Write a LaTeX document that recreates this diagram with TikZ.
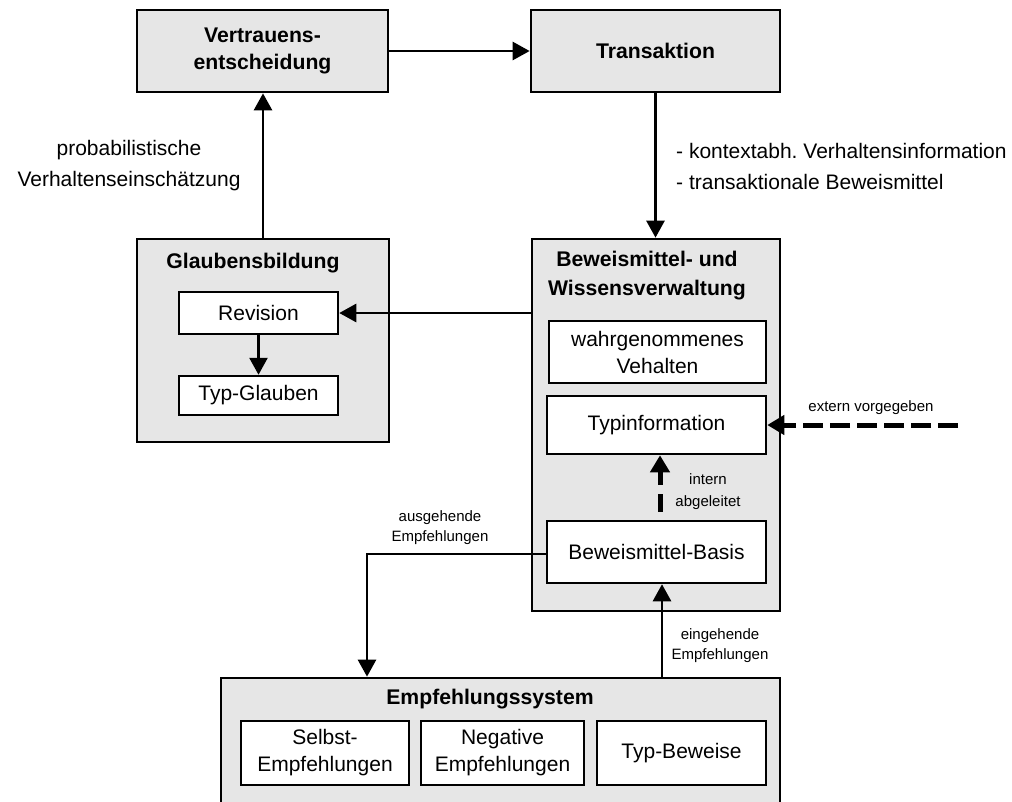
\documentclass[tikz,border=0pt]{standalone}
\usepackage{fontspec}
\setmainfont{Liberation Sans}
\usetikzlibrary{arrows.meta}
\definecolor{boxgray}{RGB}{230,230,230}
\frenchspacing
\begin{document}
\begin{tikzpicture}[x=1pt,y=-1pt,
  outerbox/.style={draw, line width=2.7pt, fill=boxgray, inner sep=0pt, align=center,
    font=\fontsize{21.2}{27}\selectfont\bfseries},
  innerbox/.style={draw, line width=2.5pt, fill=white, inner sep=0pt, align=center,
    font=\fontsize{21}{27}\selectfont},
  title/.style={align=center, inner sep=0pt, font=\fontsize{21.2}{29}\selectfont\bfseries},
  biglabel/.style={inner sep=0pt, font=\fontsize{21}{31}\selectfont},
  smalllabel/.style={inner sep=0pt, align=center, font=\fontsize{15}{20}\selectfont},
  arr/.style={line width=2.7pt, -{Triangle[length=17pt,width=18pt]}},
  dasharr/.style={line width=5pt, dash pattern=on 20pt off 7pt, -{Triangle[length=17pt,width=19pt]}}
]
\useasboundingbox (0,0) rectangle (1012,801);
\clip (0,0) rectangle (1012,801);

% top row
\node[outerbox, minimum width=251pt, minimum height=82pt] (vert) at (262.5,51) {Vertrauens-\\entscheidung};
\node[outerbox, minimum width=249pt, minimum height=82pt] (trans) at (655.5,51) {Transaktion};

% belief formation
\node[outerbox, minimum width=252pt, minimum height=203pt] (glaub) at (263,340.5) {};
\node[title] (glaubT) at (253,263) {Glaubensbildung};
\node[innerbox, minimum width=159pt, minimum height=42pt] (rev) at (258.5,313) {Revision};
\node[innerbox, minimum width=159pt, minimum height=39pt] (typg) at (258.5,395.5) {Typ-Glauben};

% evidence and knowledge management
\node[outerbox, minimum width=248pt, minimum height=372pt] (bew) at (656,425) {};
\node[title] (bewT) at (647,275.5) {Beweismittel- und\\Wissensverwaltung};
\node[innerbox, minimum width=217pt, minimum height=62pt] (wahr) at (657.5,352) {wahrgenommenes\\Vehalten};
\node[innerbox, minimum width=219pt, minimum height=58pt] (typi) at (656.5,425) {Typinformation};
\node[innerbox, minimum width=219pt, minimum height=62pt] (basis) at (656.5,552) {Beweismittel-Basis};

% recommendation system
\node[outerbox, minimum width=559pt, minimum height=162pt] (empf) at (500.5,759) {};
\node[title] (empfT) at (490,699) {Empfehlungssystem};
\node[innerbox, minimum width=168pt, minimum height=64pt] (selbst) at (325,753) {Selbst-\\Empfehlungen};
\node[innerbox, minimum width=163pt, minimum height=64pt] (neg) at (502.5,753) {Negative\\Empfehlungen};
\node[innerbox, minimum width=169pt, minimum height=64pt] (typb) at (681.5,753) {Typ-Beweise};

% labels
\node[biglabel, align=center] (prob) at (129,166) {probabilistische\\Verhaltenseinschätzung};
\node[biglabel, align=left, anchor=west] (kontext) at (676,166) {- kontextabh. Verhaltensinformation\\- transaktionale Beweismittel};
\node[smalllabel] (extL) at (871,408) {extern vorgegeben};
\node[smalllabel, font=\fontsize{15}{22}\selectfont] (intL) at (708,492) {intern\\abgeleitet};
\node[smalllabel] (ausL) at (440,528) {ausgehende\\Empfehlungen};
\node[smalllabel] (einL) at (720,645.5) {eingehende\\Empfehlungen};

\coordinate (ext) at (958,425);
\coordinate (outx) at (367,0);

% connectors
\draw[arr] (vert.east) -- (trans.west);
\draw[arr] (glaub.north) -- (glaub.north |- vert.south);
\draw[arr] (trans.south) -- (trans.south |- bew.north);
\draw[arr] (bew.west |- rev.east) -- (rev.east);
\draw[arr] (rev.south) -- (typg.north);
\draw[dasharr, dash pattern=on 18pt off 9pt] ([xshift=3.5pt,yshift=8pt]basis.north) -- ([xshift=3.5pt]typi.south);
\draw[dasharr] (ext) -- (typi.east);
\draw[arr] ([yshift=-2pt]basis.west) -| (outx |- empf.north);
\draw[arr] ([xshift=5.5pt]basis.south |- empf.north) -- ([xshift=5.5pt]basis.south);
\end{tikzpicture}
\end{document}
